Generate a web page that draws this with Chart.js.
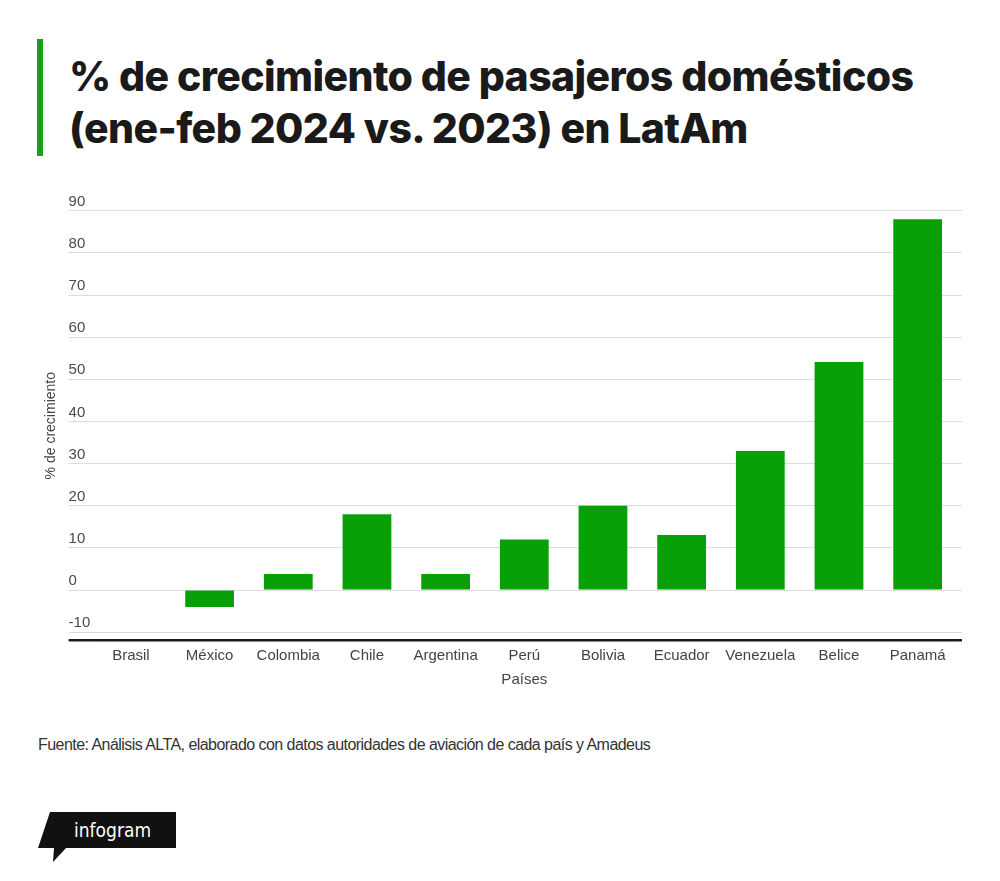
<!DOCTYPE html>
<html>
<head>
<meta charset="utf-8">
<script src="https://cdn.jsdelivr.net/npm/chart.js@4"></script>
<style>
  html, body { margin: 0; padding: 0; background: #fff; }
  body { width: 1000px; height: 881px; position: relative; overflow: hidden; }
  .bar { position: absolute; left: 37px; top: 39px; width: 6px; height: 117px; background: #1b9e1b; }
  h1 {
    position: absolute; left: 69px; top: 50px; margin: 0;
    font-family: Inter, "Noto Sans", sans-serif; font-weight: 800;
    font-size: 41px; line-height: 52px; letter-spacing: -0.6px; color: #1a1a1a;
  }
  #wrap { position: absolute; left: 0; top: 180px; width: 1000px; height: 520px; }
  .source {
    position: absolute; left: 38px; top: 736px;
    font-family: "Liberation Sans", Arial, sans-serif; font-size: 16px;
    letter-spacing: -0.55px; color: #333;
  }
  .logo { position: absolute; left: 36px; top: 810px; }
</style>
</head>
<body>
<div class="bar"></div>
<h1>% de crecimiento de pasajeros domésticos<br>(ene-feb 2024 vs. 2023) en LatAm</h1>
<div id="wrap"><canvas id="growth"></canvas></div>
<div class="source">Fuente: Análisis ALTA, elaborado con datos autoridades de aviación de cada país y Amadeus</div>
<svg class="logo" width="145" height="55" viewBox="0 0 145 55">
  <polygon points="14,2 140,2 140,38 30,38 17,52 18,38 2,38" fill="#111"/>
  <text x="38" y="27" fill="#fff" font-family="'DejaVu Sans Condensed', 'Liberation Sans Narrow', sans-serif" font-size="19">infogram</text>
</svg>
<script>
const paises = ["Brasil", "México", "Colombia", "Chile", "Argentina", "Perú", "Bolivia", "Ecuador", "Venezuela", "Belice", "Panamá"];
const crecimiento = [0, -4, 3.8, 18, 3.8, 12, 20, 13.1, 33, 54.1, 88];
const yTicks = [-10, 0, 10, 20, 30, 40, 50, 60, 70, 80, 90];
const yMin = -12;
const yMax = 90;

const axisFont = { family: "'Liberation Sans', Arial, sans-serif", size: 15 };
const gridColor = (ctx) => ctx.tick && ctx.tick.value === yMin ? "#1a1a1a" : "#dcdcdc";
const gridWidth = (ctx) => ctx.tick && ctx.tick.value === yMin ? 2.5 : 1;
// bottom tick is the black base line, the rest are the labelled grid lines
const setTicks = (scale) => {
    scale.ticks = [yMin].concat(yTicks).map((v) => ({ value: v }));
};

const growth = document.getElementById("growth");

const growthChart = new Chart(growth, {
    type: "bar",
    data: {
        labels: paises,
        datasets: [
            {
                label: "% de crecimiento",
                data: crecimiento,
                backgroundColor: "#07a107",
                barPercentage: 0.62,
                categoryPercentage: 1,
            },
        ],
    },
    options: {
        responsive: true,
        maintainAspectRatio: false,
        animation: false,
        layout: {
            padding: { left: 43, right: 38, top: 30.7, bottom: 0 },
        },
        plugins: {
            legend: { display: false },
            tooltip: { enabled: false },
        },
        scales: {
            x: {
                grid: { display: false },
                border: { display: false },
                ticks: { color: "#444", font: axisFont, padding: -2, maxRotation: 0 },
                title: {
                    display: true,
                    text: "Países",
                    color: "#444",
                    font: axisFont,
                    padding: { top: 0, bottom: 11 },
                },
                afterFit: (scale) => { scale.height = 59.3; },
            },
            y: {
                min: yMin,
                max: yMax,
                afterBuildTicks: setTicks,
                ticks: {
                    mirror: true,
                    padding: -23,
                    labelOffset: -9,
                    color: "#4a4a4a",
                    font: axisFont,
                    callback: (v) => (v === yMin ? "" : v),
                },
                grid: { color: gridColor, lineWidth: gridWidth, tickLength: 23 },
                border: { display: false },
                title: {
                    display: true,
                    text: "% de crecimiento",
                    color: "#444",
                    font: { family: "'Liberation Sans', Arial, sans-serif", size: 14 },
                    padding: 0,
                },
                afterFit: (scale) => { scale.width = 48.6; },
            },
            y2: {
                position: "right",
                min: yMin,
                max: yMax,
                afterBuildTicks: setTicks,
                ticks: { display: false },
                grid: { color: gridColor, lineWidth: gridWidth, drawOnChartArea: false, tickLength: 5 },
                border: { display: false },
                afterFit: (scale) => { scale.width = 5; },
            },
        },
    },
});
</script>
</body>
</html>
